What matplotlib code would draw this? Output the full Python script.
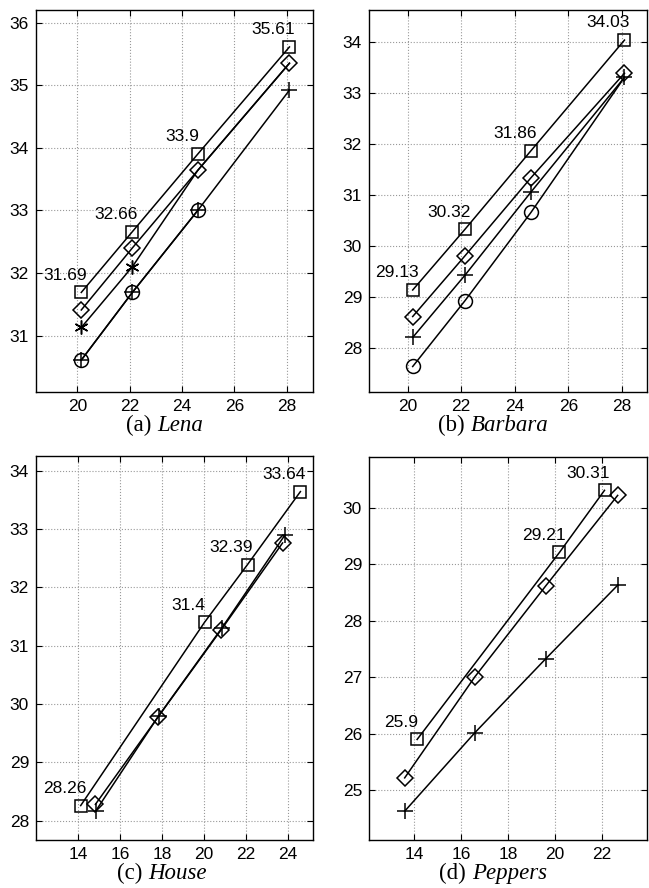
import matplotlib.pyplot as plt
import numpy as np

plt.rcParams['font.family'] = ['Liberation Sans', 'DejaVu Sans']

# Lena
lena_x = [20.15, 22.1, 24.6, 28.1]
lena_sq = [31.69, 32.66, 33.9, 35.61]
lena_dm = [31.41, 32.40, 33.64, 35.35]
lena_st = [31.13, 32.10, 33.64, 35.35]
lena_ci = [30.61, 31.69, 33.0]
lena_pl = [30.61, 31.69, 33.0, 34.92]

# Barbara
barb_x = [20.19, 22.14, 24.6, 28.09]
barb_sq = [29.13, 30.32, 31.86, 34.03]
barb_dm = [28.61, 29.80, 31.33, 33.38]
barb_pl = [28.20, 29.42, 31.05, 33.30]
barb_ci = [27.63, 28.92, 30.65, 33.30]

# House
house_sq_x = [14.13, 20.03, 22.08, 24.6]
house_sq = [28.26, 31.4, 32.39, 33.64]
house_dm_x = [14.83, 17.8, 20.8, 23.75]
house_dm = [28.28, 29.77, 31.26, 32.76]
house_pl_x = [14.85, 17.85, 20.85, 23.85]
house_pl = [28.17, 29.80, 31.30, 32.89]

# Peppers
pep_sq_x = [14.13, 20.19, 22.11]
pep_sq = [25.9, 29.21, 30.31]
pep_x = [13.6, 16.59, 19.61, 22.67]
pep_dm = [25.22, 27.01, 28.62, 30.22]
pep_pl = [24.63, 26.02, 27.33, 28.63]

W, H = 649, 888
fig = plt.figure(figsize=(W / 100, H / 100), dpi=100)
renderer = fig.canvas.get_renderer()


def make_ax(l, t, r, b):
    ax = fig.add_axes([l / W, 1 - b / H, (r - l) / W, (b - t) / H])
    ax.grid(True, linestyle=':', color='0.6', linewidth=0.8)
    ax.tick_params(direction='in', length=4, labelsize=12.5, pad=5,
                   top=True, right=True)
    for s in ax.spines.values():
        s.set_linewidth(1.0)
    ax.set_axisbelow(True)
    return ax


kw = dict(color='black', linewidth=1.1, mfc='none', mec='black', mew=1.1)
sq_kw = dict(marker='s', markersize=8, **kw)
dm_kw = dict(marker='D', markersize=8.5, **kw)
pl_kw = dict(marker='+', markersize=11, **kw)
ci_kw = dict(marker='o', markersize=10, **kw)
st_kw = dict(marker=(6, 2, 0), markersize=10, **kw)


def label(ax, xs, ys):
    for x, y in zip(xs, ys):
        ax.annotate(f'{y:g}', (x, y), xytext=(-11.5, 7), textcoords='offset points',
                    ha='center', va='bottom', fontsize=12.5)


def caption(cx, ypx, tag, name):
    t1 = fig.text(0, 1 - ypx / H, tag + ' ', ha='left', va='baseline',
                  family='Liberation Serif', fontsize=16.5)
    t2 = fig.text(0, 1 - ypx / H, name, ha='left', va='baseline',
                  family='Liberation Serif', style='italic', fontsize=16.5)
    w1 = t1.get_window_extent(renderer).width
    w2 = t2.get_window_extent(renderer).width
    x0 = cx - (w1 + w2) / 2
    t1.set_x(x0 / W)
    t2.set_x((x0 + w1) / W)


# (a) Lena
ax = make_ax(36, 10, 313, 392)
ax.plot(lena_x, lena_sq, **sq_kw)
ax.plot(lena_x, lena_dm, **dm_kw)
ax.plot(lena_x, lena_st, markevery=[0, 1], **st_kw)
ax.plot(lena_x, lena_pl, **pl_kw)
ax.plot(lena_x[:3], lena_ci, **ci_kw)
label(ax, lena_x, lena_sq)
ax.set_xlim(18.42, 29.0)
ax.set_ylim(30.1, 36.2)
ax.set_xticks([20, 22, 24, 26, 28])
ax.set_yticks([31, 32, 33, 34, 35, 36])
caption(165, 431, '(a)', 'Lena')

# (b) Barbara
ax = make_ax(369, 10, 647, 392)
ax.plot(barb_x, barb_sq, **sq_kw)
ax.plot(barb_x, barb_dm, **dm_kw)
ax.plot(barb_x, barb_pl, **pl_kw)
ax.plot(barb_x, barb_ci, markevery=[0, 1, 2], **ci_kw)
label(ax, barb_x, barb_sq)
ax.set_xlim(18.56, 28.93)
ax.set_ylim(27.13, 34.62)
ax.set_xticks([20, 22, 24, 26, 28])
ax.set_yticks([28, 29, 30, 31, 32, 33, 34])
caption(493, 431, '(b)', 'Barbara')

# (c) House
ax = make_ax(36, 456, 313, 840)
ax.plot(house_sq_x, house_sq, **sq_kw)
ax.plot(house_pl_x, house_pl, **pl_kw)
ax.plot(house_dm_x, house_dm, **dm_kw)
label(ax, house_sq_x, house_sq)
ax.set_xlim(12.0, 25.2)
ax.set_ylim(27.67, 34.25)
ax.set_xticks([14, 16, 18, 20, 22, 24])
ax.set_yticks([28, 29, 30, 31, 32, 33, 34])
caption(162, 879, '(c)', 'House')

# (d) Peppers
ax = make_ax(369, 457, 647, 840)
ax.plot(pep_sq_x, pep_sq, **sq_kw)
ax.plot(pep_x, pep_dm, **dm_kw)
ax.plot(pep_x, pep_pl, **pl_kw)
label(ax, pep_sq_x, pep_sq)
ax.set_xlim(12.08, 23.92)
ax.set_ylim(24.12, 30.9)
ax.set_xticks([14, 16, 18, 20, 22])
ax.set_yticks([25, 26, 27, 28, 29, 30])
caption(493, 879, '(d)', 'Peppers')

fig.savefig('out.png', dpi=100)
